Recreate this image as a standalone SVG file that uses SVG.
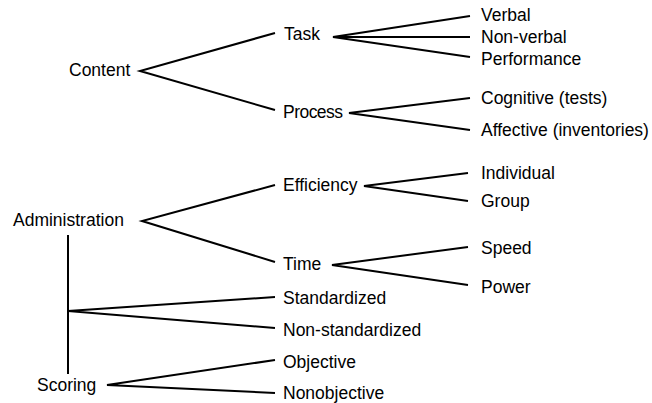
<svg xmlns="http://www.w3.org/2000/svg" width="652" height="403" viewBox="0 0 652 403">
<style>
text{font-family:"Liberation Sans",Arial,sans-serif;font-size:17.5px;fill:#000}
.c line,.c polyline{stroke:#000;stroke-width:2;fill:none;stroke-linejoin:miter}
</style>
<rect width="652" height="403" fill="#fff"/>
<g class="c" id="connectors">
<polyline points="275,33 140,71 275,110"/>
<polyline points="470,16 333,37 470,57"/>
<line x1="333" y1="37" x2="470" y2="37"/>
<polyline points="470,98 349,113 470,130"/>
<polyline points="275,185 142,221 275,262"/>
<polyline points="468,173 364,186 468,201"/>
<polyline points="468,247 332,265 468,285"/>
<line x1="68" y1="235" x2="68" y2="374"/>
<polyline points="275,297 68,311 275,328"/>
<polyline points="275,360 107,385 275,393"/>
</g>
<g id="content"><text x="69" y="76">Content</text></g>
<g id="task"><text x="284" y="40">Task</text></g>
<g id="process"><text x="283" y="118" textLength="60">Process</text></g>
<g id="verbal"><text x="481" y="21">Verbal</text></g>
<g id="nonverbal"><text x="481" y="43">Non-verbal</text></g>
<g id="performance"><text x="481" y="65">Performance</text></g>
<g id="cognitive"><text x="481" y="104">Cognitive (tests)</text></g>
<g id="affective"><text x="481" y="136">Affective (inventories)</text></g>
<g id="administration"><text x="13" y="226">Administration</text></g>
<g id="efficiency"><text x="283" y="191">Efficiency</text></g>
<g id="time"><text x="283" y="270">Time</text></g>
<g id="individual"><text x="481" y="179">Individual</text></g>
<g id="group"><text x="481" y="207">Group</text></g>
<g id="speed"><text x="481" y="254">Speed</text></g>
<g id="power"><text x="481" y="293">Power</text></g>
<g id="standardized"><text x="283" y="304">Standardized</text></g>
<g id="nonstandardized"><text x="283" y="336">Non-standardized</text></g>
<g id="objective"><text x="283" y="368">Objective</text></g>
<g id="nonobjective"><text x="283" y="399">Nonobjective</text></g>
<g id="scoring"><text x="37" y="391">Scoring</text></g>
</svg>
